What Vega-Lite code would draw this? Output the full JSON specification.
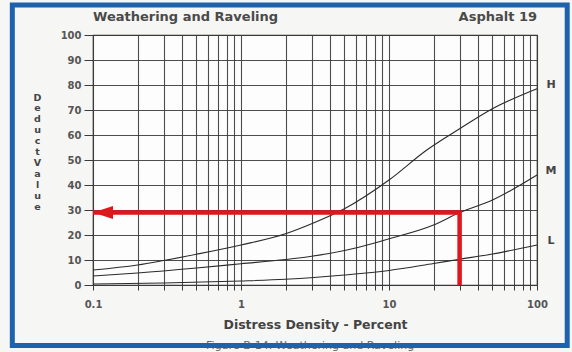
{
  "$schema": "https://vega.github.io/schema/vega-lite/v6.json",
  "width": 444,
  "height": 250,
  "autosize": "none",
  "padding": {"left": 93, "top": 35, "right": 35, "bottom": 67},
  "background": "#f6f6f4",
  "config": {
    "view": {"stroke": "#333333", "strokeWidth": 1.2, "fill": "#fdfdfd"},
    "axis": {
      "labelFont": "DejaVu Sans",
      "labelFontWeight": "bold",
      "labelFontSize": 10,
      "labelColor": "#555555",
      "titleFont": "DejaVu Sans",
      "titleFontWeight": "bold",
      "titleColor": "#444444",
      "gridColor": "#3a3a3a",
      "gridWidth": 1.1,
      "gridOpacity": 0.9,
      "tickColor": "#3a3a3a",
      "domain": false
    }
  },
  "datasets": {
    "curves": [
      {"level": "H", "pct": 0.1, "deduct": 6},
      {"level": "H", "pct": 0.2, "deduct": 8},
      {"level": "H", "pct": 0.3, "deduct": 9.8},
      {"level": "H", "pct": 0.5, "deduct": 12.3},
      {"level": "H", "pct": 1, "deduct": 16},
      {"level": "H", "pct": 2, "deduct": 20.5},
      {"level": "H", "pct": 3, "deduct": 24.5},
      {"level": "H", "pct": 5, "deduct": 30.5},
      {"level": "H", "pct": 10, "deduct": 42},
      {"level": "H", "pct": 18, "deduct": 54},
      {"level": "H", "pct": 30, "deduct": 62.5},
      {"level": "H", "pct": 50, "deduct": 70.5},
      {"level": "H", "pct": 100, "deduct": 78.5},
      {"level": "M", "pct": 0.1, "deduct": 3.6},
      {"level": "M", "pct": 0.2, "deduct": 4.8},
      {"level": "M", "pct": 0.5, "deduct": 6.8},
      {"level": "M", "pct": 1, "deduct": 8.5},
      {"level": "M", "pct": 2, "deduct": 10.2},
      {"level": "M", "pct": 3, "deduct": 11.5},
      {"level": "M", "pct": 5, "deduct": 13.8},
      {"level": "M", "pct": 10, "deduct": 18.5},
      {"level": "M", "pct": 20, "deduct": 24},
      {"level": "M", "pct": 30, "deduct": 29},
      {"level": "M", "pct": 50, "deduct": 34},
      {"level": "M", "pct": 100, "deduct": 44},
      {"level": "L", "pct": 0.1, "deduct": 0.4},
      {"level": "L", "pct": 0.3, "deduct": 0.8},
      {"level": "L", "pct": 1, "deduct": 1.6},
      {"level": "L", "pct": 2, "deduct": 2.3},
      {"level": "L", "pct": 5, "deduct": 4},
      {"level": "L", "pct": 10, "deduct": 5.8},
      {"level": "L", "pct": 20, "deduct": 8.6},
      {"level": "L", "pct": 30, "deduct": 10.3},
      {"level": "L", "pct": 50, "deduct": 12.4},
      {"level": "L", "pct": 100, "deduct": 16}
    ],
    "reading": [
      {"step": 1, "pct": 30, "deduct": 0},
      {"step": 2, "pct": 30, "deduct": 29},
      {"step": 3, "pct": 0.1, "deduct": 29}
    ],
    "single": [{}]
  },
  "layer": [
    {
      "data": {"name": "curves"},
      "mark": {"type": "line", "interpolate": "monotone", "color": "#2a2a2a", "strokeWidth": 1.1},
      "encoding": {
        "x": {
          "field": "pct",
          "type": "quantitative",
          "scale": {"type": "log", "domain": [0.1, 100], "nice": false},
          "axis": {
            "values": [0.1, 0.2, 0.3, 0.4, 0.5, 0.6, 0.7, 0.8, 0.9, 1, 2, 3, 4, 5, 6, 7, 8, 9, 10, 20, 30, 40, 50, 60, 70, 80, 90, 100],
            "tickCount": 40,
            "format": "~g",
            "labelExpr": "datum.value == 0.1 || datum.value == 1 || datum.value == 10 || datum.value == 100 ? datum.label : ''",
            "labelOverlap": false,
            "labelFlush": false,
            "grid": true,
            "tickSize": 5,
            "labelPadding": 9,
            "title": "Distress Density - Percent",
            "titleFontSize": 12.5,
            "titlePadding": 9
          }
        },
        "y": {
          "field": "deduct",
          "type": "quantitative",
          "scale": {"domain": [0, 100], "nice": false},
          "axis": {
            "values": [0, 10, 20, 30, 40, 50, 60, 70, 80, 90, 100],
            "tickCount": 20,
            "labelOverlap": false,
            "grid": true,
            "tickSize": 9,
            "labelPadding": 3,
            "title": ["D", "e", "d", "u", "c", "t", " ", "V", "a", "l", "u", "e"],
            "titleAngle": 0,
            "titleFontSize": 9.5,
            "titleLineHeight": 10.9,
            "titleAlign": "center",
            "titleBaseline": "middle",
            "titleX": -56,
            "titleY": 62
          }
        },
        "detail": {"field": "level"}
      }
    },
    {
      "data": {"name": "curves"},
      "transform": [{"filter": "datum.pct == 100"}],
      "mark": {"type": "text", "dx": 14, "dy": -4, "font": "DejaVu Sans", "fontWeight": "bold", "fontSize": 11, "color": "#444444"},
      "encoding": {
        "x": {"field": "pct", "type": "quantitative"},
        "y": {"field": "deduct", "type": "quantitative"},
        "text": {"field": "level"}
      }
    },
    {
      "data": {"name": "reading"},
      "mark": {"type": "line", "color": "#e0161d", "strokeWidth": 4.5, "strokeJoin": "miter", "strokeCap": "butt"},
      "encoding": {
        "x": {"field": "pct", "type": "quantitative"},
        "y": {"field": "deduct", "type": "quantitative"},
        "order": {"field": "step"}
      }
    },
    {
      "data": {"name": "reading"},
      "transform": [{"filter": "datum.step == 3"}],
      "mark": {"type": "point", "shape": "M0,0L1,-0.32L1,0.32Z", "size": 1600, "filled": true, "color": "#e0161d", "opacity": 1, "strokeWidth": 0},
      "encoding": {
        "x": {"field": "pct", "type": "quantitative"},
        "y": {"field": "deduct", "type": "quantitative"}
      }
    },
    {
      "data": {"name": "single"},
      "mark": {"type": "text", "text": "Weathering and Raveling", "align": "left", "baseline": "middle", "font": "DejaVu Sans", "fontWeight": "bold", "fontSize": 13, "color": "#4a4a4a"},
      "encoding": {
        "x": {"datum": 0.1, "type": "quantitative"},
        "y": {"datum": 107.2, "type": "quantitative"}
      }
    },
    {
      "data": {"name": "single"},
      "mark": {"type": "text", "text": "Asphalt 19", "align": "right", "baseline": "middle", "font": "DejaVu Sans", "fontWeight": "bold", "fontSize": 13, "color": "#4a4a4a"},
      "encoding": {
        "x": {"datum": 100, "type": "quantitative"},
        "y": {"datum": 107.2, "type": "quantitative"}
      }
    },
    {
      "data": {"name": "single"},
      "mark": {"type": "text", "text": "Figure B-14.  Weathering and Raveling", "align": "center", "baseline": "top", "font": "DejaVu Sans", "fontSize": 11, "color": "#666666"},
      "encoding": {
        "x": {"datum": 2.93, "type": "quantitative"},
        "y": {"datum": -21.8, "type": "quantitative"}
      }
    },
    {
      "data": {"name": "single"},
      "mark": {"type": "rect", "fill": null, "fillOpacity": 0, "stroke": "#1d62ac", "strokeWidth": 5},
      "encoding": {
        "x": {"datum": 0.0285, "type": "quantitative"},
        "x2": {"datum": 160},
        "y": {"datum": 112, "type": "quantitative"},
        "y2": {"datum": -24.2}
      }
    }
  ]
}
